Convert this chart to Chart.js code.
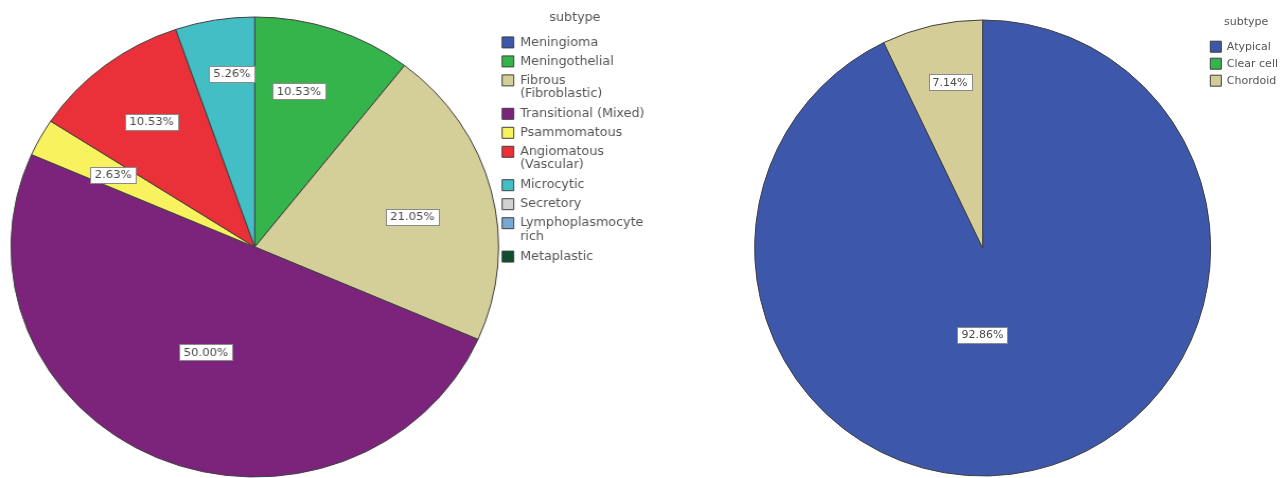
<!DOCTYPE html>
<html>
<head>
<meta charset="utf-8">
<script src="https://cdn.jsdelivr.net/npm/chart.js@4.4.1/dist/chart.umd.min.js"></script>
<style>
  html, body { margin: 0; padding: 0; background: #ffffff; overflow: hidden; width: 1286px; height: 478px; }
  #wrapA { position: absolute; left: 0; top: 0; width: 618px; height: 482px; transform: scaleX(1.06); transform-origin: 0 0; }
  #wrapB { position: absolute; left: 700px; top: 0; width: 588px; height: 479px; }
</style>
</head>
<body>
<div id="wrapA"><canvas id="chartA"></canvas></div>
<div id="wrapB"><canvas id="chartB"></canvas></div>
<script>
// ---- Data: left chart (benign subtypes) ----
const subtypesA = [
  'Meningioma',
  'Meningothelial',
  ['Fibrous', '(Fibroblastic)'],
  'Transitional (Mixed)',
  'Psammomatous',
  ['Angiomatous', '(Vascular)'],
  'Microcytic',
  'Secretory',
  ['Lymphoplasmocyte', 'rich'],
  'Metaplastic'
];
const percentsA = [0, 10.53, 21.05, 50.00, 2.63, 10.53, 5.26, 0, 0, 0];
const colorsA = ['#3e57aa', '#34b44a', '#d4ce98', '#7c247c', '#f7f25e', '#ea3038', '#43bec4', '#d2d2d2', '#78a8d4', '#0f4e2c'];

// ---- Data: right chart (atypical subtypes) ----
const subtypesB = ['Atypical', 'Clear cell', 'Chordoid'];
const percentsB = [92.86, 0, 7.14];
const colorsB = ['#3d57ab', '#34b44a', '#d4cd98'];

const legendTitle = 'subtype';

// label placement: distance from centre (fraction of radius) and angle nudge (degrees)
const labelRadiusA = [0.6, 0.70, 0.66, 0.50, 0.66, 0.69, 0.76, 0.6, 0.6, 0.6];
const labelNudgeA  = [0, -4, 2.7, 0, 0, 0, 2.4, 0, 0, 0];
const labelRadiusB = [0.38, 0.6, 0.74];
const labelNudgeB  = [13, 0, 1.7];

const FONT = '"DejaVu Sans", Verdana, sans-serif';

const sliceLabels = {
  id: 'sliceLabels',
  afterDatasetsDraw(chart, args, opts) {
    const ctx = chart.ctx;
    const meta = chart.getDatasetMeta(0);
    const values = chart.data.datasets[0].data;
    ctx.save();
    ctx.font = opts.fontSize + 'px ' + FONT;
    ctx.textAlign = 'center';
    ctx.textBaseline = 'middle';
    meta.data.forEach((arc, i) => {
      const v = values[i];
      if (!v) return;
      const p = arc.getProps(['x', 'y', 'startAngle', 'endAngle', 'outerRadius'], true);
      const mid = (p.startAngle + p.endAngle) / 2 + opts.nudges[i] * Math.PI / 180;
      const r = p.outerRadius * opts.fractions[i];
      const x = p.x + Math.cos(mid) * r;
      const y = p.y + Math.sin(mid) * r;
      const txt = v.toFixed(2) + '%';
      const w = Math.round(ctx.measureText(txt).width + 8);
      const h = opts.fontSize + 5;
      const bx = Math.round(x - w / 2) + 0.5, by = Math.round(y - h / 2) + 0.5;
      ctx.fillStyle = '#ffffff';
      ctx.fillRect(bx, by, w, h);
      ctx.strokeStyle = '#8a8a8a';
      ctx.lineWidth = 1;
      ctx.strokeRect(bx, by, w, h);
      ctx.fillStyle = '#4a4a4a';
      ctx.fillText(txt, x, y + 0.5);
    });
    ctx.restore();
  }
};

function makePie(id, labels, values, colors, fractions, nudges, cfg) {
  return new Chart(document.getElementById(id), {
    type: 'pie',
    data: {
      labels: labels,
      datasets: [{
        data: values,
        backgroundColor: colors,
        borderColor: '#3f3f3f',
        borderWidth: 1,
        hoverOffset: 0
      }]
    },
    options: {
      responsive: true,
      maintainAspectRatio: false,
      animation: false,
      radius: cfg.radius,
      layout: { padding: cfg.padding },
      plugins: {
        tooltip: { enabled: false },
        sliceLabels: { fractions: fractions, nudges: nudges, fontSize: cfg.labelFont },
        legend: {
          position: 'right',
          align: 'start',
          title: {
            display: true,
            text: legendTitle,
            color: '#555555',
            font: { family: FONT, size: cfg.legendFont },
            padding: { top: 0, bottom: cfg.titleGap }
          },
          labels: {
            color: '#555555',
            font: { family: FONT, size: cfg.legendFont, lineHeight: 1.1 },
            boxWidth: cfg.box,
            boxHeight: cfg.box,
            padding: cfg.itemPad
          }
        }
      }
    },
    plugins: [sliceLabels]
  });
}

makePie('chartA', subtypesA, percentsA, colorsA, labelRadiusA, labelNudgeA, {
  radius: 230, padding: { left: 14, right: 0, top: 12, bottom: 0 },
  labelFont: 11, legendFont: 12, box: 11, itemPad: 7, titleGap: 3
});
makePie('chartB', subtypesB, percentsB, colorsB, labelRadiusB, labelNudgeB, {
  radius: 228, padding: { left: 61, right: 0, top: 17, bottom: 0 },
  labelFont: 11, legendFont: 11, box: 11, itemPad: 6, titleGap: 5
});
</script>
</body>
</html>
